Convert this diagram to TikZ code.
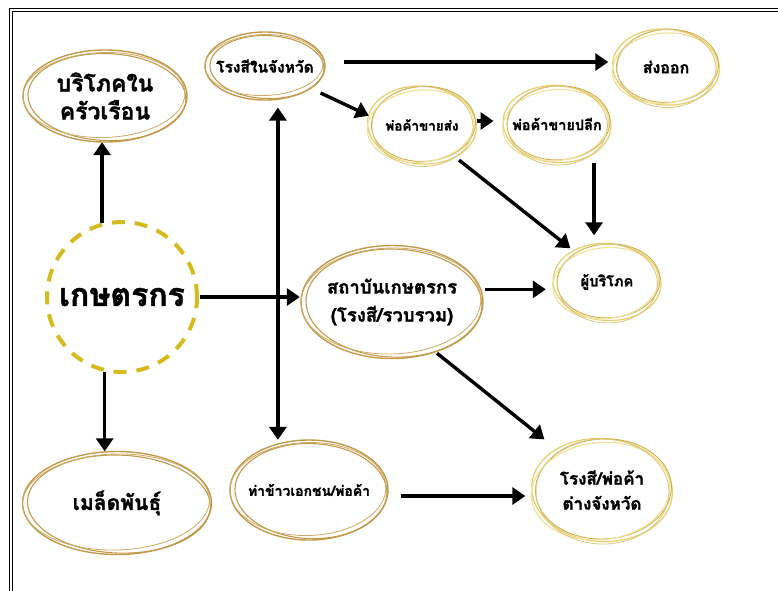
\documentclass[tikz,border=0pt]{standalone}
\usepackage{fontspec}
\newfontfamily\thaifont[Script=Thai, BoldFeatures={FakeBold=1.5}]{Loma}
\usetikzlibrary{arrows.meta,shapes.geometric,calc}
\definecolor{brownc}{HTML}{C49A4A}
\definecolor{goldA}{HTML}{E6CF6A}
\definecolor{goldB}{HTML}{CFAE45}
\definecolor{goldC}{HTML}{F0E29C}
\definecolor{farmy}{HTML}{D6BB1E}
\newcommand\brownring[3]{%
  \draw[brownc, line width=1.4pt] (#1.center) ellipse [x radius=#2pt, y radius=#3pt];
  \draw[brownc, line width=1.1pt, rotate around={-2:(#1.center)}] ([shift={(2pt,-1pt)}]#1.center) ellipse [x radius=#2pt-3pt, y radius=#3pt-2.5pt];
  \draw[brownc!85, line width=0.8pt, rotate around={1.5:(#1.center)}] ([shift={(-1pt,1pt)}]#1.center) ellipse [x radius=#2pt-1pt, y radius=#3pt-3.5pt];
}
\newcommand\goldring[3]{%
  \draw[goldA, line width=1.2pt, rotate around={-4:(#1.center)}] (#1.center) ellipse [x radius=#2pt, y radius=#3pt-1pt];
  \draw[goldB, line width=0.9pt, rotate around={3:(#1.center)}] ([shift={(1.5pt,1pt)}]#1.center) ellipse [x radius=#2pt-2.5pt, y radius=#3pt-2.5pt];
  \draw[goldC, line width=1.2pt, rotate around={6:(#1.center)}] ([shift={(-1.5pt,-1pt)}]#1.center) ellipse [x radius=#2pt-1pt, y radius=#3pt-4pt];
  \draw[goldB!70, line width=0.8pt, rotate around={-1:(#1.center)}] ([shift={(0.5pt,-1.5pt)}]#1.center) ellipse [x radius=#2pt-4pt, y radius=#3pt];
}
\tikzset{
  lbl/.style={shape=ellipse, inner sep=0pt, align=center},
  arr/.style={line width=3.4pt, -{Triangle[length=13pt,width=17pt]}, black},
  darr/.style={line width=3.4pt, {Triangle[length=13pt,width=17pt]}-{Triangle[length=13pt,width=17pt]}, black},
}
\begin{document}
\begin{tikzpicture}[x=1pt,y=-1pt]
\useasboundingbox (0,0) rectangle (778,590);
% frame
\draw[double, double distance=2pt, line width=1.2pt] (11,600) -- (11,9.7) -- (800,9.7);

% nodes
\node[circle, minimum size=150pt, inner sep=0pt, draw=farmy, line width=4pt, dash pattern=on 13pt off 10pt, font=\thaifont\bfseries\fontsize{32}{38}\selectfont] (far) at (122,297) {เกษตรกร};
\node[lbl, minimum width=164pt, minimum height=92pt, font=\thaifont\bfseries\fontsize{23}{28}\selectfont] (hh) at (105,96) {บริโภคใน\\ครัวเรือน};
\node[lbl, minimum width=120pt, minimum height=68pt, font=\thaifont\bfseries\fontsize{15.5}{18}\selectfont] (mill) at (265,66) {โรงสีในจังหวัด};
\node[lbl, minimum width=107pt, minimum height=78pt, font=\thaifont\bfseries\fontsize{16}{18}\selectfont] (export) at (666,67) {ส่งออก};
\node[lbl, minimum width=109pt, minimum height=80pt, font=\thaifont\bfseries\fontsize{13.5}{18}\selectfont] (ws) at (422,125) {พ่อค้าขายส่ง};
\node[lbl, minimum width=108pt, minimum height=79pt, font=\thaifont\bfseries\fontsize{14.5}{18}\selectfont] (rt) at (557,124) {พ่อค้าขายปลีก};
\node[lbl, minimum width=108pt, minimum height=79pt, font=\thaifont\bfseries\fontsize{14.5}{18}\selectfont] (cons) at (607,282) {ผู้บริโภค};
\node[lbl, minimum width=182pt, minimum height=113pt, font=\thaifont\bfseries\fontsize{18.5}{28}\selectfont] (inst) at (392,302) {สถาบันเกษตรกร\\(โรงสี/รวบรวม)};
\node[lbl, minimum width=189pt, minimum height=103pt, font=\thaifont\bfseries\fontsize{21}{28}\selectfont] (seed) at (117,503) {เมล็ดพันธุ์};
\node[lbl, minimum width=158pt, minimum height=100pt, font=\thaifont\bfseries\fontsize{14}{18}\selectfont] (tha) at (309,490) {ท่าข้าวเอกชน/พ่อค้า};
\node[lbl, minimum width=141pt, minimum height=105pt, font=\thaifont\bfseries\fontsize{17}{25}\selectfont] (other) at (602,490) {โรงสี/พ่อค้า\\ต่างจังหวัด};

% rings
\brownring{hh}{82}{46}
\brownring{mill}{60}{34}
\brownring{inst}{91}{56.5}
\brownring{seed}{94.5}{51.5}
\brownring{tha}{79}{50}
\goldring{export}{53.5}{39}
\goldring{ws}{54.5}{40}
\goldring{rt}{54}{39.5}
\goldring{cons}{54}{39.5}
\goldring{other}{70.5}{52.5}

% connectors
\draw[arr] (far.105) -- (far.105 |- hh.south);
\draw[arr] (far.-103) -- (far.-103 |- seed.north);
\draw[arr, shorten <=1pt] (far.east) -- (far.east -| inst.west);
\draw[darr, shorten <=8pt] (mill.-69) -- (mill.-69 |- tha.north);
\draw[arr, shorten <=10pt, shorten >=4pt] ([yshift=4pt]mill.east) -- ([yshift=4pt]mill.east -| export.west);
\draw[arr, shorten <=7pt] (mill.-26) -- (ws.170);
\draw[arr] ([yshift=4pt]ws.east) -- ([yshift=4pt]ws.east -| rt.west);
\draw[arr, shorten <=5pt, shorten >=4pt] (ws.-44) -- (cons.137);
\draw[arr, shorten <=7pt, shorten >=7pt] (rt.-41) -- (rt.-41 |- cons.north);
\draw[arr, shorten <=3pt, shorten >=7pt] (inst.8) -- (inst.8 -| cons.west);
\draw[arr, shorten <=2pt, shorten >=16pt] (inst.-49) -- (other.138);
\draw[arr, shorten <=5pt, shorten >=6pt] ([yshift=-6pt]tha.east) -- ([yshift=-6pt]tha.east -| other.west);
\end{tikzpicture}
\end{document}
